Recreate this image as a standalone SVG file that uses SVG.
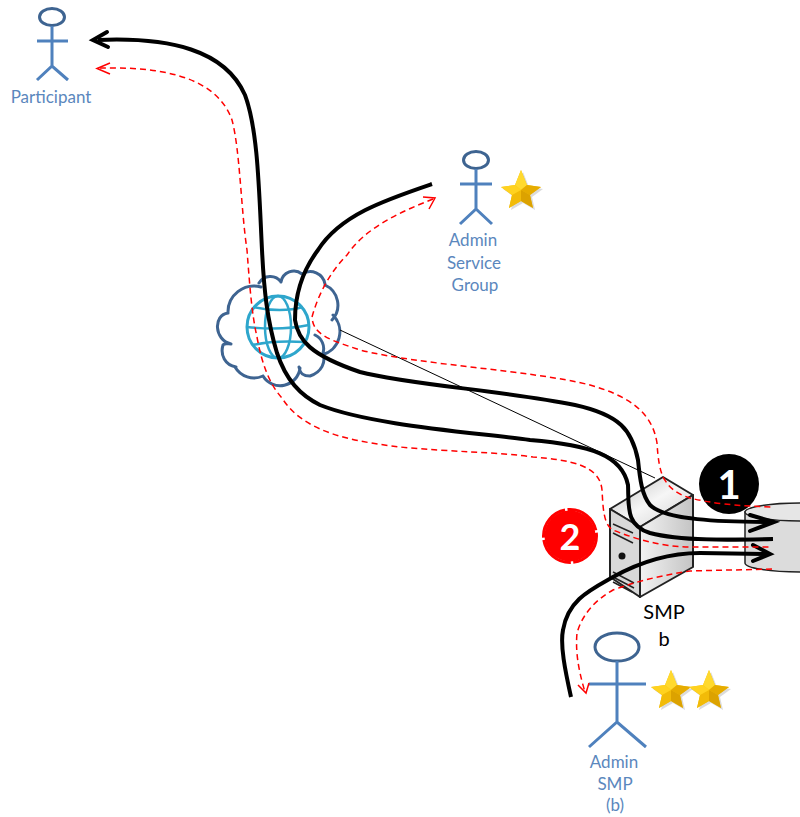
<svg xmlns="http://www.w3.org/2000/svg" width="800" height="817" viewBox="0 0 800 817">
<style>
text{font-family:"Lato","Open Sans","Liberation Sans",sans-serif}
.lbl{font-size:17px;fill:#5b87bd;text-anchor:middle}
.act{fill:none;stroke:#4f81bd;stroke-width:3}
.head{fill:#fff;stroke:#3e6491;stroke-width:3}
.k{fill:none;stroke:#000;stroke-width:4}
.r{fill:none;stroke:#f00;stroke-width:1.500;stroke-dasharray:6 4}
.rh{fill:none;stroke:#f00;stroke-width:1.500}
.kh{fill:none;stroke:#000;stroke-width:4;stroke-linecap:round}
.srv{stroke:#222;stroke-width:2;stroke-linejoin:round}
.cl{fill:none;stroke:#3e6491;stroke-width:3;stroke-linecap:round}
.gl{fill:none;stroke:#2ea6cc;stroke-width:2.500}
</style>
<defs>
<linearGradient id="top" x1="0" y1="0" x2="1" y2="1"><stop offset="0" stop-color="#bdbdbd"/><stop offset=".5" stop-color="#f6f6f6"/><stop offset="1" stop-color="#cfcfcf"/></linearGradient>
<linearGradient id="side" x1="0" y1="0" x2="1" y2="0"><stop offset="0" stop-color="#f2f2f2"/><stop offset="1" stop-color="#c4c4c4"/></linearGradient>
<g id="s">
<polygon points="2,-18 8,-3 22,-1 11,7 14,20 2,13 -10,20 -7,7 -18,-1 -4,-3" fill="#888" opacity=".3"/>
<polygon points="0,-20 6,-5 20,-3 9,5 12,18 0,11 -12,18 -9,5 -20,-3 -6,-5" fill="#f5c211"/>
<polygon points="0,-20 6,-5 0,0 -6,-5" fill="#ffd92e"/>
<polygon points="20,-3 9,5 0,0 6,-5" fill="#e6ac00"/>
<polygon points="12,18 0,11 0,0 9,5" fill="#dca200"/>
<polygon points="-12,18 -9,5 0,0 0,11" fill="#f2bb08"/>
<polygon points="-20,-3 -6,-5 0,0 -9,5" fill="#ffd21f"/>
</g>
</defs>
<g id="database">
<path d="M745 512V563A55 9 0 0 0 855 563V512Z" fill="#dcdcdc" stroke="#222" stroke-width="1.500"/>
<ellipse cx="800" cy="512" rx="55" ry="9" fill="#e6e6e6" stroke="#222" stroke-width="1.500"/>
</g>
<g id="smp-server">
<polygon class="srv" points="610,509 663,477 693,495 640,527" fill="url(#top)"/>
<polygon class="srv" points="640,527 693,495 693,567 640,597" fill="url(#side)"/>
<polygon class="srv" points="610,509 640,527 640,597 610,577" fill="#d8d8d8"/>
<path d="M613 524L633 533M613 533L633 543M613 572L634 583M613 577L634 588M613 582L632 592" stroke="#222" stroke-width="1.500" fill="none"/>
<circle cx="622" cy="556" r="3.500" fill="#111"/>
<text x="664" y="619" font-size="20" text-anchor="middle" fill="#000">SMP</text>
<text x="664" y="646" font-size="20" text-anchor="middle" fill="#000">b</text>
</g>
<g id="badge-1">
<circle cx="729" cy="484" r="30" fill="#000"/>
<text x="729" y="499" font-size="40" font-weight="bold" text-anchor="middle" fill="#fff">1</text>
</g>
<g id="badge-2">
<circle cx="570" cy="536" r="25.500" fill="#f00"/>
<circle cx="570" cy="536" r="26.500" fill="none" stroke="#f00" stroke-width="3" stroke-dasharray="38 2.500"/>
<text x="570" y="550" font-size="36" font-weight="bold" text-anchor="middle" fill="#fff">2</text>
</g>
<g id="cloud">
<path class="cl" d="M228 313A26 26 0 0 1 261 287M259 283A13 13 0 0 1 281 282M281 282A13 13 0 0 1 302 274M302 274A15 15 0 0 1 325 284M325 285A22 22 0 0 1 332 320M333 315A24 24 0 0 1 322 355M315 335A15 15 0 0 1 323 353C326 362 322 372 310 376C305 376 300 375 299 367M300 368A20 20 0 0 1 263 376M263 376A22 22 0 0 1 235 367M236 367C225 365 220 355 223 345C224 343 228 344 231 344M231 344C214 340 213 315 228 313"/>
<circle cx="278" cy="327" r="31" fill="none" stroke="#2ea6cc" stroke-width="3"/>
<ellipse cx="278" cy="327" rx="13" ry="31" class="gl"/>
<path class="gl" d="M253 307C270 311 290 311 303 307M247 327C265 329 290 329 309 325M253 345C270 341 290 341 305 342"/>
</g>
<g id="participant">
<ellipse cx="52" cy="17" rx="12.500" ry="8.500" class="head"/>
<path class="act" d="M52 26V66M37 41H68M37 80L52 66L68 80"/>
<text class="lbl" x="51" y="103">Participant</text>
</g>
<g id="admin-service-group">
<ellipse cx="476" cy="160" rx="12.500" ry="8.500" class="head"/>
<path class="act" d="M476 169V209M460 184H492M460 224L476 209L492 224"/>
<text class="lbl" x="473" y="246">Admin</text>
<text class="lbl" x="474" y="269">Service</text>
<text class="lbl" x="475" y="291">Group</text>
<use href="#s" x="521" y="190"/>
</g>
<g id="admin-smp">
<ellipse cx="617" cy="647" rx="22" ry="14" class="head"/>
<path class="act" d="M617 661V722M589 684H646M589 747L617 722L646 747"/>
<text class="lbl" x="614" y="768">Admin</text>
<text class="lbl" x="615" y="790">SMP</text>
<text class="lbl" x="615" y="811">(b)</text>
<use href="#s" x="671" y="690"/>
<use href="#s" x="709" y="690"/>
</g>
<g id="connectors">
<path d="M340 330L655 478" fill="none" stroke="#000" stroke-width="1"/>
<path d="M693 538H745" fill="none" stroke="#777" stroke-width="1"/>
<path class="k" d="M98 40C170 37 225 50 245 95C258 130 259 190 262 250C264 290 267 320 277 353C286 380 300 395 320 405C370 425 470 432 530 440C590 445 622 455 628 485C629 505 625 525 650 533C680 541 730 540 773 539"/>
<path class="kh" d="M107 32L93 40L108 47"/>
<path class="k" d="M432 184C385 200 340 215 318 250C303 270 295 293 295 320C298 340 310 355 360 372C410 385 500 390 575 405C620 415 632 430 638 460C640 480 642 495 650 505C665 520 720 522 772 522"/>
<path class="kh" d="M750 515L774 522L750 531"/>
<path class="k" d="M571 697C565 670 560 645 563 630C568 600 590 590 613 577C640 562 670 553 700 553L768 554"/>
<path class="kh" d="M753 545L770 554L753 561"/>
<path class="r" d="M100 68C150 67 215 72 232 120C240 150 241 210 247 250C250 290 252 315 257 337C262 365 270 385 282 398C305 435 360 442 400 447C450 452 500 452 533 457C570 460 600 465 602 490C603 505 603 525 613 530C630 537 660 547 690 547L772 547"/>
<path class="rh" d="M110 63L97 68.500L110 74"/>
<path class="r" d="M433 199C400 212 365 228 347 255C330 272 318 295 312 317C313 335 330 340 360 350C420 365 530 370 590 385C625 395 652 410 657 443C658 460 660 470 663 477C670 490 680 495 690 498C710 503 735 506 772 507"/>
<path class="rh" d="M423 197L435 198L429 209"/>
<path class="r" d="M772 569L690 571C665 575 640 580 613 590C595 600 582 615 577 633C575 655 580 675 585 692"/>
<path class="rh" d="M578 685L586 693L589 683"/>
</g>
</svg>
